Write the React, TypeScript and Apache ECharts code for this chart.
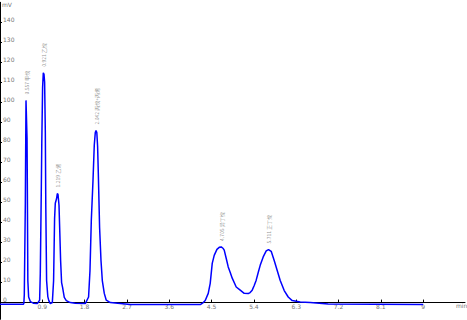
import React, { useEffect, useRef } from "react";
import * as echarts from "echarts";

const times: number[] = [
  0, 0.496, 0.507, 0.517, 0.539, 0.553, 0.566, 0.575, 0.581, 0.592, 0.609, 0.645, 0.709, 0.794,
  0.843, 0.857, 0.879, 0.889, 0.906, 0.921, 0.936, 0.949, 0.964, 0.974, 0.991, 1.017, 1.038, 1.07,
  1.113, 1.14, 1.161, 1.176, 1.204, 1.219, 1.234, 1.255, 1.272, 1.289, 1.31, 1.331, 1.367, 1.41, 1.495, 1.602, 1.814,
  1.884, 1.914, 1.942, 1.978, 2.005, 2.027, 2.042, 2.059, 2.076, 2.091, 2.118, 2.148, 2.176, 2.218, 2.26, 2.346, 2.558, 2.771,
  4.259, 4.323, 4.365, 4.429, 4.471, 4.514, 4.556, 4.614, 4.663, 4.705, 4.748, 4.769, 4.812, 4.854, 4.897, 4.939, 5.024, 5.109, 5.194,
  5.279, 5.32, 5.364, 5.407, 5.449, 5.492, 5.534, 5.598, 5.662, 5.711, 5.768, 5.832, 5.896, 5.96, 6.045, 6.13, 6.215, 6.385, 6.597, 6.98, 9.0,
];
const signal: number[] = [
  -0.8, -0.8, -0.5, 4, 50, 101, 101, 82, 60, 11, 2.8, 0.5, -0.3, -0.5,
  1.2, 14.6, 57.6, 80, 107.6, 114.8, 114, 110, 85, 48, 11, 3, 1, -0.5,
  0, 11, 42, 49.6, 52, 54.5, 54, 48.6, 35, 21, 10, 7.6, 2.6, 1, 0, -0.3, -0.5,
  2.8, 16, 41, 61, 78.6, 85, 86, 85, 78, 64.6, 37.6, 21, 11, 4.6, 1.2, 0, -0.5, -1,
  -1, 0, 1, 4.6, 9.6, 19.6, 23.6, 26.6, 27.6, 27.8, 27, 26.2, 22, 17.8, 15, 12.2, 7.8, 6.2, 4.6,
  4.5, 5, 6.2, 8.5, 11.2, 15, 18.6, 22.8, 25.8, 26.5, 25.6, 21, 16, 11, 6, 2.8, 1, 0.3, 0, -0.7, -1,
];

const peakTimes: number[] = [0.557, 0.921, 1.219, 2.042, 4.705, 5.711];
const peakHeights: number[] = [101, 114.8, 54.5, 86, 27.8, 26.5];
const peakNames: string[] = ["甲烷", "乙烷", "乙烯", "丙烷+丙烯", "异丁烷", "正丁烷"];

const yTicks: number[] = [0, 10, 20, 30, 40, 50, 60, 70, 80, 90, 100, 110, 120, 130, 140];
const xTicks: number[] = [0.9, 1.8, 2.7, 3.6, 4.5, 5.4, 6.3, 7.2, 8.1, 9];

export default function App() {
  const ref = useRef<HTMLDivElement>(null);
  useEffect(() => {
    if (!ref.current) return;
    const chart = echarts.init(ref.current, null, { renderer: "svg" });
    const lineData = times.map((t, i) => [t, signal[i]]);
    const peakData = peakTimes.map((t, i) => ({
      value: [t, peakHeights[i]],
      name: t.toFixed(3) + " " + peakNames[i],
    }));
    chart.setOption({
      animation: false,
      grid: { left: 0, right: 2, top: 2.3, bottom: 0.7, containLabel: false },
      xAxis: {
        type: "value",
        min: 0,
        max: 9.89,
        axisLine: { lineStyle: { color: "#000", width: 1 } },
        axisTick: { inside: true, length: 3, customValues: xTicks, lineStyle: { color: "#000" } },
        axisLabel: {
          inside: true,
          margin: 10,
          fontSize: 6,
          color: "#777",
          fontFamily: "DejaVu Sans",
          customValues: xTicks,
          formatter: (v: number) => String(parseFloat(v.toFixed(1))),
        },
        splitLine: { show: false },
      },
      yAxis: {
        type: "value",
        min: -8.35,
        max: 150,
        axisLine: { show: true, lineStyle: { color: "#000", width: 1 } },
        axisTick: { show: true, inside: true, length: 2, customValues: yTicks, lineStyle: { color: "#000" } },
        axisLabel: {
          inside: true,
          margin: 3,
          fontSize: 6,
          color: "#777",
          fontFamily: "DejaVu Sans",
          verticalAlign: "bottom",
          customValues: yTicks,
        },
        splitLine: { show: false },
      },
      graphic: [
        { type: "text", left: 2, top: 1, style: { text: "mV", fontSize: 6, fill: "#777", fontFamily: "DejaVu Sans" } },
        { type: "text", left: 456, top: 302, style: { text: "min", fontSize: 6, fill: "#777", fontFamily: "DejaVu Sans" } },
      ],
      series: [
        {
          type: "line",
          data: lineData,
          showSymbol: false,
          symbol: "none",
          lineStyle: { color: "#0000ff", width: 1.5 },
          silent: true,
        },
        {
          type: "scatter",
          data: peakData,
          symbolSize: 0,
          silent: true,
          label: {
            show: true,
            position: "top",
            distance: 4,
            rotate: 90,
            align: "left",
            verticalAlign: "middle",
            offset: [2, 0],
            fontSize: 5,
            color: "#777",
            fontFamily: "Noto Sans CJK SC",
            formatter: (p: any) => p.name,
          },
        },
      ],
    });
    return () => chart.dispose();
  }, []);
  return (
    <div
      ref={ref}
      style={{ width: 467, height: 320, position: "fixed", left: 0, top: 0, background: "#fff" }}
    />
  );
}
